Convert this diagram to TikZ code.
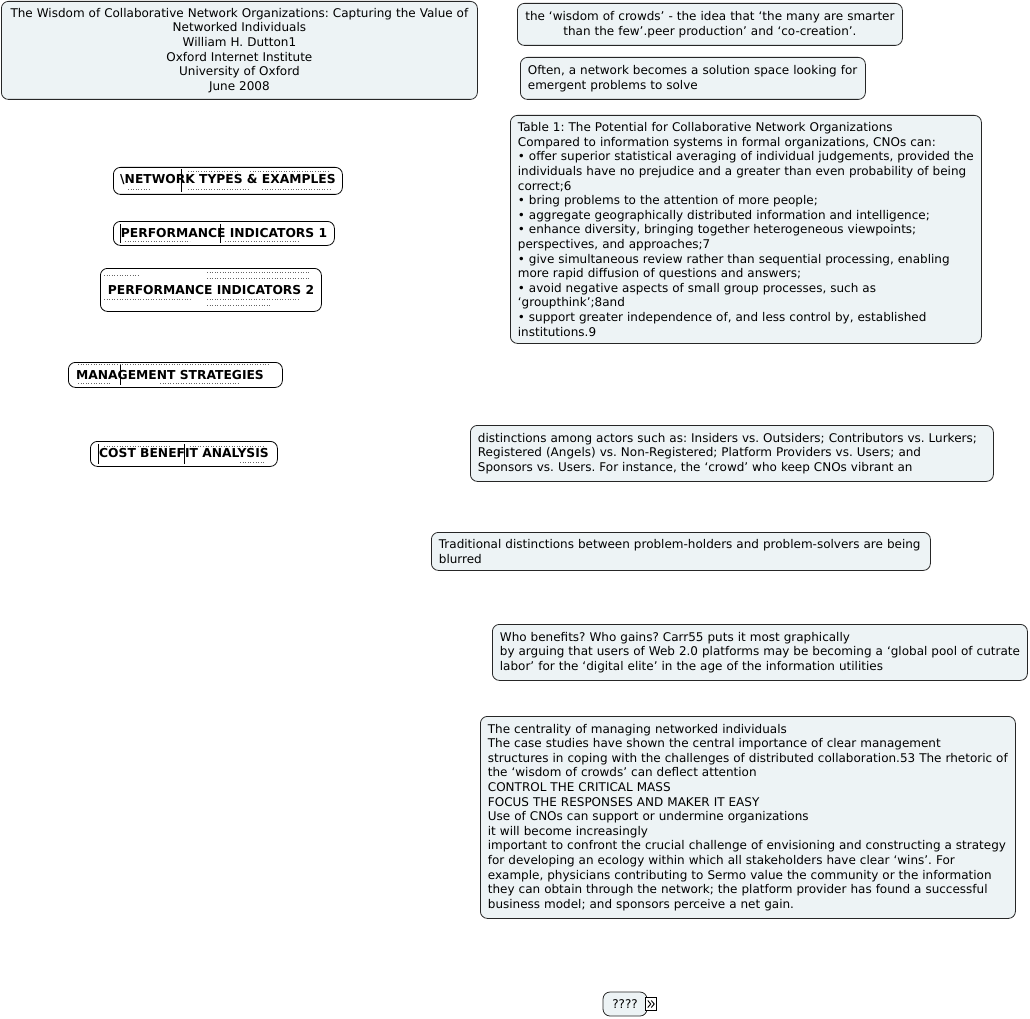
\documentclass[tikz,border=0pt]{standalone}
\usepackage{fontspec}
\setmainfont{DejaVu Sans}
\frenchspacing
\begin{document}
\begin{tikzpicture}[x=1pt,y=-1pt,
  note/.style={draw=black!85, line width=0.8pt, fill={rgb,255:red,237;green,243;blue,245}, rounded corners=7pt,
    font=\fontsize{12}{14.6}\selectfont, inner xsep=7.5pt, inner ysep=3pt, anchor=north west},
  thumb/.style={draw=black, line width=0.8pt, fill=white, rounded corners=7pt, anchor=north west, inner sep=0pt},
  thumbtxt/.style={font=\fontsize{12.3}{13}\selectfont\bfseries, inner sep=0pt},
  grain/.style={black!60, line width=0.6pt, dotted},
  divider/.style={black, line width=0.6pt}]
\useasboundingbox (0,0) rectangle (1030,1019);

% title
\node[note, minimum width=476pt, minimum height=98pt, text width=461pt, align=center] (title) at (1,1)
 {The Wisdom of Collaborative Network Organizations: Capturing the Value of\\Networked Individuals\\William H. Dutton1\\Oxford Internet Institute\\University of Oxford\\June 2008};

\node[note, minimum width=385pt, minimum height=42pt, text width=370pt, align=center] (wisdom) at (517,3)
 {the ‘wisdom of crowds’ - the idea that ‘the many are smarter\\than the few’.peer production’ and ‘co-creation’.};

\node[note, minimum width=345pt, minimum height=42pt, text width=330pt, align=left] (often) at (520,57)
 {Often, a network becomes a solution space looking for\\emergent problems to solve};

\node[note, minimum width=471pt, minimum height=228pt, text width=456pt, align=left] (table) at (510,115)
 {Table 1: The Potential for Collaborative Network Organizations\\
Compared to information systems in formal organizations, CNOs can:\\
• offer superior statistical averaging of individual judgements, provided the\\
individuals have no prejudice and a greater than even probability of being\\
correct;6\\
• bring problems to the attention of more people;\\
• aggregate geographically distributed information and intelligence;\\
• enhance diversity, bringing together heterogeneous viewpoints;\\
perspectives, and approaches;7\\
• give simultaneous review rather than sequential processing, enabling\\
more rapid diffusion of questions and answers;\\
• avoid negative aspects of small group processes, such as\\
‘groupthink’;8and\\
• support greater independence of, and less control by, established\\
institutions.9};

\node[note, minimum width=523pt, minimum height=56pt, text width=508pt, align=left] (distinct) at (470,425)
 {distinctions among actors such as: Insiders vs. Outsiders; Contributors vs. Lurkers;\\
Registered (Angels) vs. Non-Registered; Platform Providers vs. Users; and\\
Sponsors vs. Users. For instance, the ‘crowd’ who keep CNOs vibrant an};

\node[note, minimum width=499pt, minimum height=38pt, text width=484pt, align=left] (trad) at (431,532)
 {Traditional distinctions between problem-holders and problem-solvers are being\\blurred};

\node[note, minimum width=535pt, minimum height=56pt, text width=520pt, align=left] (who) at (492,624)
 {Who benefits? Who gains? Carr55 puts it most graphically\\
by arguing that users of Web 2.0 platforms may be becoming a ‘global pool of cutrate\\
labor’ for the ‘digital elite’ in the age of the information utilities};

\node[note, minimum width=535pt, minimum height=202pt, text width=520pt, align=left] (central) at (480,716)
 {The centrality of managing networked individuals\\
The case studies have shown the central importance of clear management\\
structures in coping with the challenges of distributed collaboration.53 The rhetoric of\\
the ‘wisdom of crowds’ can deflect attention\\
CONTROL THE CRITICAL MASS\\
FOCUS THE RESPONSES AND MAKER IT EASY\\
Use of CNOs can support or undermine organizations\\
it will become increasingly\\
important to confront the crucial challenge of envisioning and constructing a strategy\\
for developing an ecology within which all stakeholders have clear ‘wins’. For\\
example, physicians contributing to Sermo value the community or the information\\
they can obtain through the network; the platform provider has found a successful\\
business model; and sponsors perceive a net gain.};

% ???? node
\node[note, minimum width=44pt, minimum height=24pt, inner xsep=2pt, align=center, anchor=center] (q) at (625,1004) {????};
\node[draw=black, line width=0.7pt, fill=white, minimum width=11pt, minimum height=13pt, inner sep=0pt, anchor=west] (qicon) at ([xshift=-2pt]q.east) {};
\draw[line width=0.9pt] ([xshift=-3.5pt,yshift=3.5pt]qicon.center) -- ([xshift=-0.5pt]qicon.center) -- ([xshift=-3.5pt,yshift=-3.5pt]qicon.center);
\draw[line width=0.9pt] ([xshift=0pt,yshift=3.5pt]qicon.center) -- ([xshift=3pt]qicon.center) -- ([xshift=0pt,yshift=-3.5pt]qicon.center);

% thumbnails
\node[thumb, minimum width=229pt, minimum height=27pt] (net) at (113,167) {};
\draw[divider] (181,169) -- (181,192);
\draw[grain] (188,171) -- (240,171) (250,171) -- (330,171) (188,189) -- (250,189) (262,189) -- (330,189) (128,189) -- (150,189);
\node[thumbtxt] (nettxt) at (228,180) {\textbackslash NETWORK TYPES \& EXAMPLES};

\node[thumb, minimum width=221pt, minimum height=24pt] (pi1) at (113,221) {};
\draw[divider] (120,224) -- (120,243) (220,224) -- (220,243);
\draw[grain] (125,241) -- (190,241) (225,241) -- (300,241);
\node[thumbtxt] (pi1txt) at (224,233) {PERFORMANCE INDICATORS 1};

\node[thumb, minimum width=221pt, minimum height=43pt] (pi2) at (100,268) {};
\draw[grain] (104,275) -- (140,275) (207,272) -- (310,272) (207,278) -- (310,278) (104,299) -- (190,299) (207,299) -- (300,299) (207,305) -- (270,305);
\node[thumbtxt] (pi2txt) at (211,290) {PERFORMANCE INDICATORS 2};

\node[thumb, minimum width=214pt, minimum height=25pt] (mgmt) at (68,362) {};
\draw[divider] (120,365) -- (120,385);
\draw[grain] (78,364) -- (270,364) (78,383) -- (110,383) (160,383) -- (240,383);
\node[thumbtxt] (mgmttxt) at (170,375) {MANAGEMENT STRATEGIES};

\node[thumb, minimum width=187pt, minimum height=25pt] (cost) at (90,441) {};
\draw[divider] (98,444) -- (98,464) (184,444) -- (184,464);
\draw[grain] (104,446) -- (170,446) (190,446) -- (265,446) (240,462) -- (265,462);
\node[thumbtxt] (costtxt) at (184,453) {COST BENEFIT ANALYSIS};
\end{tikzpicture}
\end{document}
